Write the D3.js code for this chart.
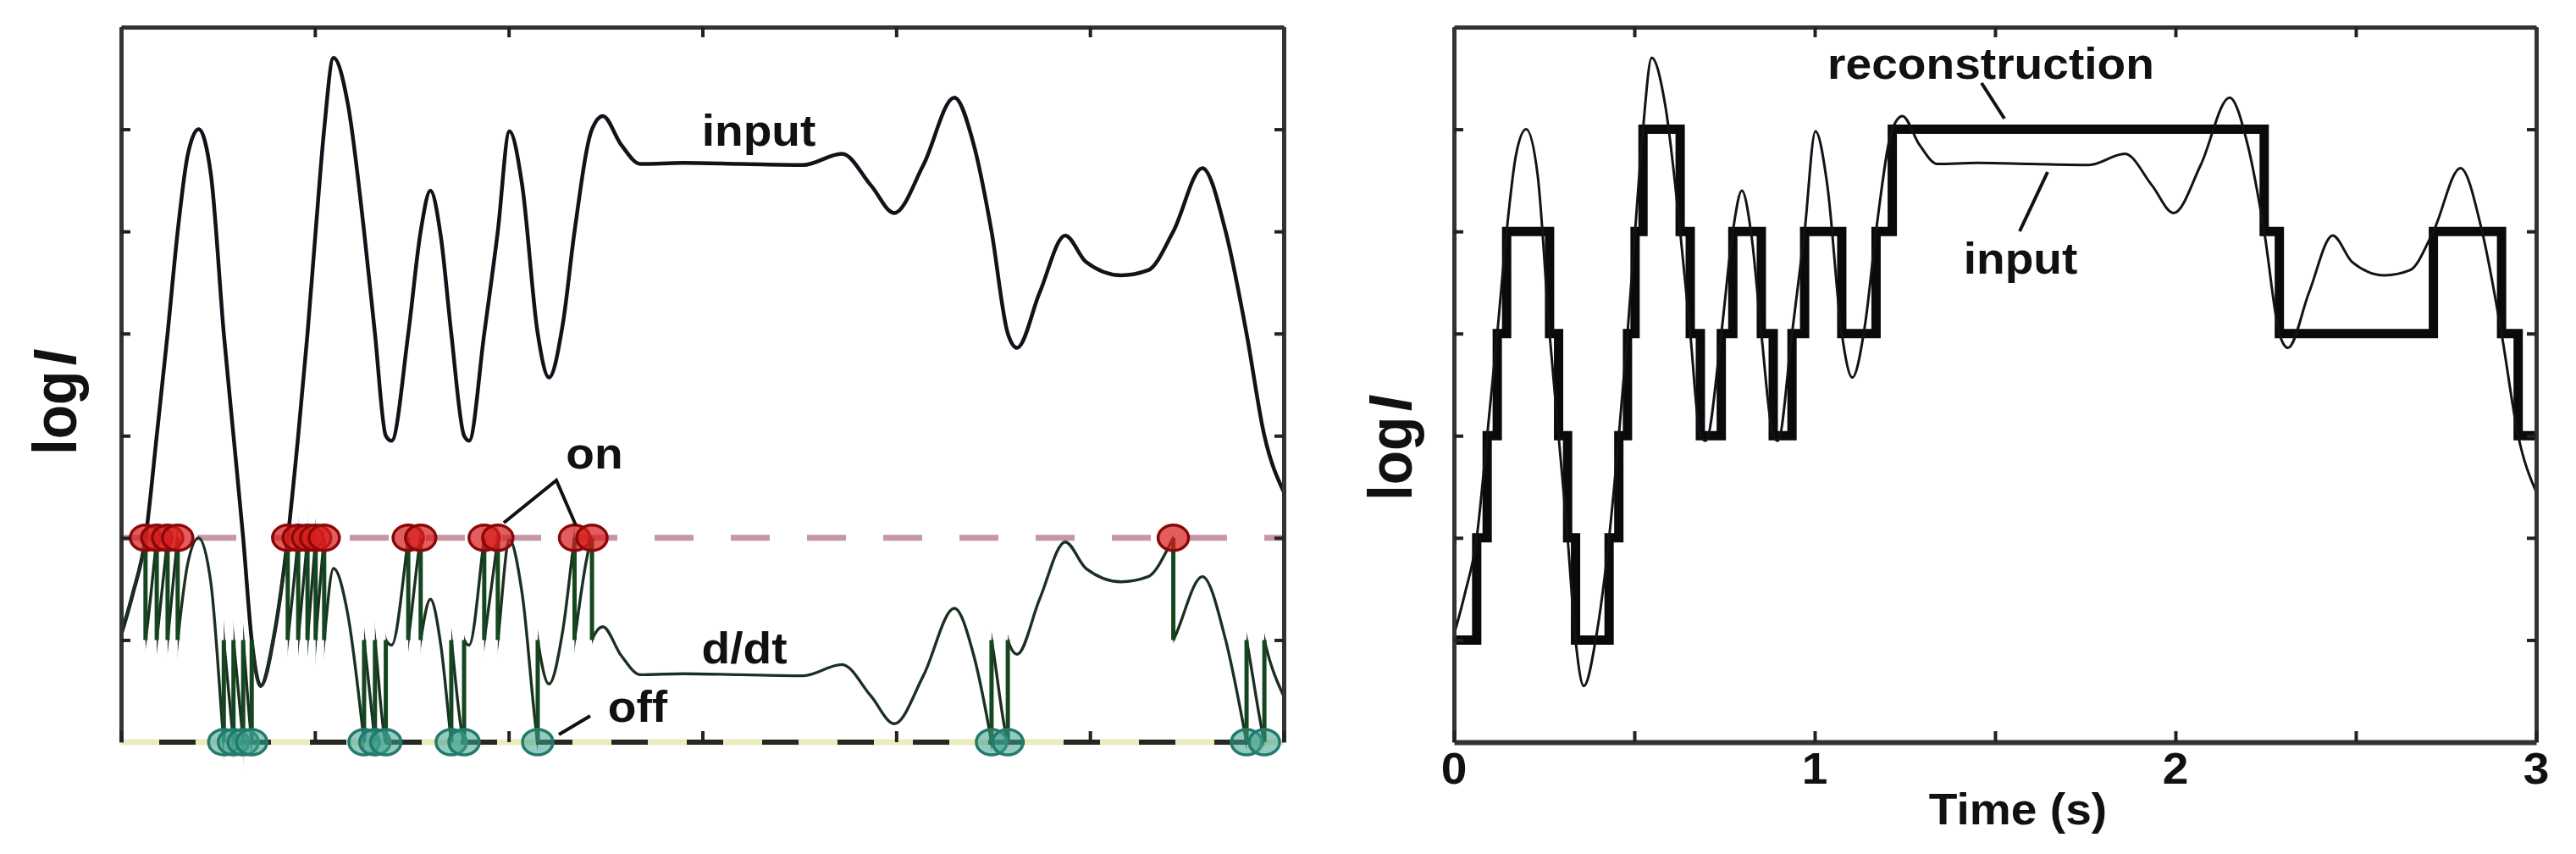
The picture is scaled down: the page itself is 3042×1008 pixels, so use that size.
<!DOCTYPE html>
<html><head><meta charset="utf-8">
<script src="https://cdn.jsdelivr.net/npm/d3@7"></script>
<style>body{margin:0;background:#fff}svg{display:block}</style>
</head><body>
<svg id="c" width="3042" height="1008"></svg>
<script>
// ---- data ----
const inputTime = [0,0.03,0.063,0.092,0.12,0.146,0.172,0.2,0.232,0.265,0.29,0.315,0.337,0.36,0.395,0.43,0.457,0.481,0.502,0.524,0.548,0.585,0.627,0.655,0.683,0.698,0.741,0.773,0.798,0.825,0.852,0.885,0.898,0.937,0.972,1.002,1.035,1.075,1.104,1.14,1.17,1.215,1.243,1.29,1.34,1.45,1.6,1.76,1.86,1.935,1.995,2.07,2.15,2.2,2.246,2.288,2.312,2.37,2.436,2.49,2.58,2.65,2.715,2.79,2.85,2.904,2.95,3.0];
const inputLogI = [1.05,1.45,2.0,3.0,4.0,5.0,5.75,6.0,5.55,4.0,3.0,2.0,1.0,0.55,1.05,2.0,3.0,4.0,5.0,6.0,6.7,6.25,5.0,4.0,3.0,2.95,4.0,5.0,5.4,4.95,4.0,3.0,2.95,4.0,5.0,5.98,5.45,4.0,3.57,4.1,5.0,6.0,6.13,5.85,5.66,5.67,5.66,5.65,5.76,5.45,5.18,5.65,6.31,5.85,5.0,4.0,3.86,4.4,4.96,4.7,4.57,4.62,5.0,5.62,5.0,4.0,3.0,2.45];
const onTimes  = [0.063,0.092,0.12,0.146,0.43,0.457,0.481,0.502,0.524,0.741,0.773,0.937,0.972,1.17,1.215,2.715];
const offTimes = [0.265,0.29,0.315,0.337,0.627,0.655,0.683,0.852,0.885,1.075,2.246,2.288,2.904,2.95];
const reconStartLevel = 1;
const onThreshold = 2, offThreshold = 0, resetLevel = 1;
const xTicks = [0,0.5,1,1.5,2,2.5,3];
const xTickLabels = ["0","","1","","2","","3"];
const yTicks = [1,2,3,4,5,6];
const tDomain = [0,3], vDomain = [0,7];

// ---- layout ----
const svg = d3.select("#c");
const FONT = "'Liberation Sans', Arial, Helvetica, sans-serif";
const SX = 1.06;
const plotTop = 32, plotBottom = 876;
const L = {x0:143, x1:1516}, R = {x0:1717, x1:2995};
const y = d3.scaleLinear().domain(vDomain).range([plotBottom, plotTop]);
const xL = d3.scaleLinear().domain(tDomain).range([L.x0, L.x1]);
const xR = d3.scaleLinear().domain(tDomain).range([R.x0, R.x1]);
const inputPts = d3.zip(inputTime, inputLogI);

function txt(g, str, x, yy, size) {
  return g.append("text").attr("transform", `translate(${x},${yy}) scale(${SX},1)`)
    .attr("text-anchor","middle").attr("font-size", size).attr("font-family", FONT)
    .attr("font-weight","bold").attr("fill","#111").text(str);
}
function ylabel(x, yy) {
  const t = svg.append("text").attr("transform", `translate(${x},${yy}) scale(1.1,1) rotate(-90)`)
    .attr("text-anchor","middle").attr("font-size",66).attr("font-family",FONT)
    .attr("font-weight","bold").attr("fill","#111");
  t.append("tspan").text("log");
  t.append("tspan").attr("font-style","italic").attr("dx",6).text("I");
}
function pointer(pts) {
  svg.append("path").attr("d", d3.line()(pts)).attr("fill","none")
    .attr("stroke","#111").attr("stroke-width",4);
}
function frame(x, bottomDomain, labels) {
  const g = svg.append("g");
  const style = (a, w) => { a.selectAll(".domain").attr("stroke","#333").attr("stroke-width",w);
    a.selectAll(".tick line").attr("stroke","#222").attr("stroke-width",4); a.selectAll("text").remove(); };
  g.append("g").attr("transform",`translate(0,${plotTop})`).call(d3.axisTop(x).tickValues(xTicks).tickSize(-12).tickSizeOuter(0)).call(a=>style(a,5));
  g.append("g").attr("transform",`translate(${x.range()[0]},0)`).call(d3.axisLeft(y).tickValues(yTicks).tickSize(-11).tickSizeOuter(0)).call(a=>style(a,5));
  g.append("g").attr("transform",`translate(${x.range()[1]},0)`).call(d3.axisRight(y).tickValues(yTicks).tickSize(-11).tickSizeOuter(0)).call(a=>style(a,5));
  const b = g.append("g").attr("transform",`translate(0,${plotBottom})`).call(d3.axisBottom(x).tickValues(xTicks).tickSize(-13).tickSizeOuter(0)).call(a=>style(a,6));
  if (!bottomDomain) b.select(".domain").attr("stroke","none");
  if (labels) xTicks.forEach((t,i)=>{ if (xTickLabels[i]) txt(svg, xTickLabels[i], x(t), 925, 52); });
}

// ---- events & reconstruction levels ----
const events = [...onTimes.map(t=>({t,s:1})), ...offTimes.map(t=>({t,s:-1}))].sort((a,b)=>a.t-b.t);
const segs = []; let lev = reconStartLevel, tPrev = tDomain[0];
events.forEach(e=>{ segs.push({t0:tPrev,t1:e.t,level:lev}); lev += e.s; e.level = lev; tPrev = e.t; });
segs.push({t0:tPrev,t1:tDomain[1],level:lev});
const reconPts = [[tDomain[0], reconStartLevel], ...events.map(e=>[e.t,e.level]), [tDomain[1], lev]];

// ================= LEFT PANEL =================
const defs = svg.append("defs");
svg.append("line").attr("x1",L.x0).attr("x2",L.x1).attr("y1",y(onThreshold)).attr("y2",y(onThreshold))
  .attr("stroke","#c596a6").attr("stroke-width",7).attr("stroke-dasharray","46 44");
svg.append("line").attr("x1",L.x0).attr("x2",L.x1).attr("y1",y(offThreshold)).attr("y2",y(offThreshold))
  .attr("stroke","#ecebbe").attr("stroke-width",7);
svg.append("line").attr("x1",L.x0).attr("x2",L.x1).attr("y1",y(offThreshold)).attr("y2",y(offThreshold))
  .attr("stroke","#262626").attr("stroke-width",6).attr("stroke-dasharray","43 46").attr("stroke-dashoffset",44);

const lineL = d3.line().x(d=>xL(d[0])).y(d=>y(d[1])).curve(d3.curveMonotoneX);
const dL = lineL(inputPts);
svg.append("path").attr("d",dL).attr("fill","none").attr("stroke","#12121a").attr("stroke-width",4.5);
segs.forEach((s,i)=>{
  defs.append("clipPath").attr("id","seg"+i).append("rect")
    .attr("x",xL(s.t0)).attr("width",Math.max(0.5,xL(s.t1)-xL(s.t0))).attr("y",0).attr("height",1008);
  svg.append("g").attr("clip-path",`url(#seg${i})`).append("path").attr("d",dL)
    .attr("transform",`translate(0,${y(resetLevel - s.level) - y(0)})`)
    .attr("fill","none").attr("stroke","#1a3020").attr("stroke-width",3.4);
});
events.forEach(e=>{
  svg.append("line").attr("x1",xL(e.t)).attr("x2",xL(e.t))
    .attr("y1",y(e.s>0?onThreshold:offThreshold)).attr("y2",y(resetLevel))
    .attr("stroke","#14461f").attr("stroke-width",5);
});
onTimes.forEach(t=>svg.append("ellipse").attr("cx",xL(t)).attr("cy",y(onThreshold)).attr("rx",18).attr("ry",15)
  .attr("fill","rgba(215,30,30,0.72)").attr("stroke","#8c0808").attr("stroke-width",3.5));
offTimes.forEach(t=>svg.append("ellipse").attr("cx",xL(t)).attr("cy",y(offThreshold)).attr("rx",18).attr("ry",15)
  .attr("fill","rgba(60,160,140,0.55)").attr("stroke","#237a6c").attr("stroke-width",3.5));
frame(xL, false, false);
ylabel(90, 475);
txt(svg,"input",896,172,52);
txt(svg,"on",702,553,52);
txt(svg,"d/dt",879,783,52);
txt(svg,"off",753,852,52);
pointer([[595,617],[657,567],[680,620]]);
pointer([[660,867],[697,845]]);

// ================= RIGHT PANEL =================
const lineR = d3.line().x(d=>xR(d[0])).y(d=>y(d[1])).curve(d3.curveMonotoneX);
svg.append("path").attr("d", d3.line().x(d=>xR(d[0])).y(d=>y(d[1])).curve(d3.curveStepAfter)(reconPts))
  .attr("fill","none").attr("stroke","#0a0a0a").attr("stroke-width",11).attr("stroke-linejoin","miter");
svg.append("path").attr("d",lineR(inputPts)).attr("fill","none").attr("stroke","#12121a").attr("stroke-width",3);
frame(xR, true, true);
ylabel(1667, 529);
txt(svg,"reconstruction",2351,93,52);
txt(svg,"input",2386,323,52);
txt(svg,"Time (s)",2383,973,52);
pointer([[2340,98],[2367,140]]);
pointer([[2418,203],[2385,273]]);
</script>
</body></html>
